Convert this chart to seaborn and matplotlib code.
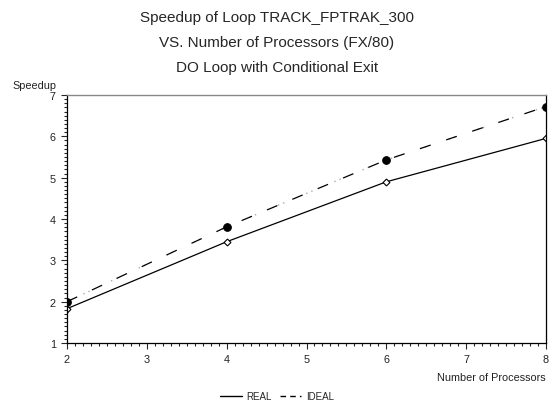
import matplotlib
matplotlib.use("Agg")
import matplotlib.pyplot as plt
import seaborn as sns
import pandas as pd
from matplotlib.ticker import MultipleLocator
from matplotlib.lines import Line2D

processors = [2, 4, 6, 8]
real = [1.83, 3.45, 4.90, 5.95]
ideal = [2.00, 3.81, 5.43, 6.72]

sns.set_style("ticks")
plt.rcParams['font.family'] = ['Liberation Sans', 'DejaVu Sans']

df = pd.DataFrame({"Processors": processors * 2,
                   "Speedup": real + ideal,
                   "Series": ["REAL"] * 4 + ["IDEAL"] * 4})
df_real = df[df.Series == "REAL"]
df_ideal = df[df.Series == "IDEAL"]

fig = plt.figure(figsize=(5.54, 4.10), dpi=100)
ax = fig.add_axes([67/554, 1 - 344/410, (546-67)/554, (344-96)/410])

# gray dots between the dashes of the IDEAL line
sns.lineplot(data=df_ideal, x="Processors", y="Speedup", ax=ax,
             color="#aaaaaa", lw=1.0, legend=False)
ax.lines[-1].set_linestyle((9, (1, 3, 1, 17)))

sns.lineplot(data=df_real, x="Processors", y="Speedup", ax=ax,
             color="black", lw=0.9, marker="D", markersize=3.5,
             markerfacecolor="white", markeredgecolor="black", markeredgewidth=0.8,
             legend=False)
sns.lineplot(data=df_ideal, x="Processors", y="Speedup", ax=ax,
             color="black", lw=0.9, marker="o", markersize=5.5,
             markerfacecolor="black", markeredgecolor="black",
             legend=False)
ax.lines[-1].set_linestyle((0, (9, 13)))

ax.set_xlim(2, 8)
ax.set_ylim(1, 7)
ax.xaxis.set_major_locator(MultipleLocator(1))
ax.xaxis.set_minor_locator(MultipleLocator(0.1))
ax.yaxis.set_major_locator(MultipleLocator(1))
ax.yaxis.set_minor_locator(MultipleLocator(0.1))
ax.tick_params(axis='both', which='major', length=4, width=0.8, labelsize=7.8, pad=4,
               labelcolor="#222222")
ax.tick_params(axis='both', which='minor', length=2, width=0.8)
for side in ["left", "bottom", "right"]:
    ax.spines[side].set_visible(True)
    ax.spines[side].set_color("black")
    ax.spines[side].set_linewidth(0.9)
ax.spines["top"].set_visible(True)
ax.spines["top"].set_color("#888888")
ax.spines["top"].set_linewidth(1.0)

ax.set_xlabel("")
ax.set_ylabel("")
fig.text(546/554, 1 - 378/410, "Number of Processors", ha="right", va="center",
         fontsize=7.8, color="#222222")
fig.text(12/554, 1 - 86/410, "Speedup", ha="left", va="center", fontsize=7.8,
         color="#222222")

fig.text(0.5, 1 - 18/410, "Speedup of Loop TRACK_FPTRAK_300", ha="center", va="center", fontsize=11)
fig.text(0.5, 1 - 43/410, "VS. Number of Processors (FX/80)", ha="center", va="center", fontsize=11)
fig.text(0.5, 1 - 68/410, "DO Loop with Conditional Exit", ha="center", va="center", fontsize=11)

# legend
h1 = Line2D([], [], color="black", lw=1.0)
h2 = Line2D([], [], color="black", lw=1.0, dashes=[4, 3])
fig.legend([h1, h2], ["REAL", "IDEAL"], loc="center", bbox_to_anchor=(0.5, 1 - 397/410),
           ncol=2, frameon=False, fontsize=7, handlelength=2.2, handletextpad=0.5,
           columnspacing=0.8)

fig.savefig("out.png", dpi=100)
